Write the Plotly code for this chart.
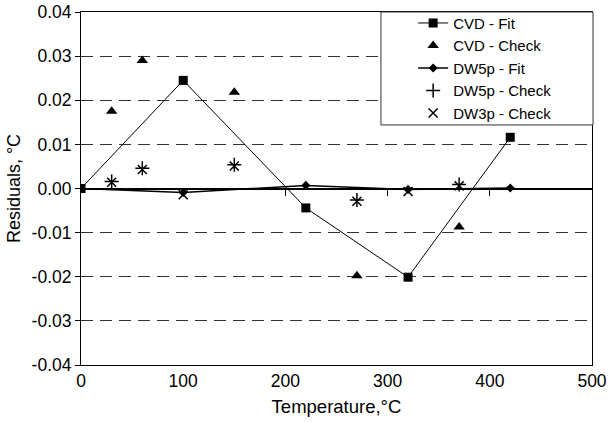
import plotly.graph_objects as go

# ---- data ----
cvd_fit_x = [0, 100, 220, 320, 420]
cvd_fit_y = [0.0, 0.0245, -0.0044, -0.0201, 0.0116]

cvd_check_x = [30, 60, 150, 270, 370]
cvd_check_y = [0.0175, 0.0290, 0.0218, -0.0198, -0.0087]

dw5p_fit_x = [0, 100, 220, 320, 420]
dw5p_fit_y = [0.0, -0.0009, 0.0007, -0.0002, 0.0001]

dw5p_check_x = [30, 60, 150, 270, 370]
dw5p_check_y = [0.0016, 0.0046, 0.0054, -0.0026, 0.0009]

dw3p_check_x = [30, 60, 100, 150, 270, 320, 370]
dw3p_check_y = [0.0014, 0.0043, -0.0014, 0.0051, -0.0029, -0.0007, 0.0006]

x_ticks = [0, 100, 200, 300, 400, 500]
y_ticks = [-0.04, -0.03, -0.02, -0.01, 0.0, 0.01, 0.02, 0.03, 0.04]
y_tick_text = ["-0.04", "-0.03", "-0.02", "-0.01", "0.00", "0.01", "0.02", "0.03", "0.04"]
zero_axis_ticks = [100, 200, 300, 400]

FONT = "Liberation Sans, Arial, sans-serif"

fig = go.Figure()
fig.add_trace(go.Scatter(x=cvd_fit_x, y=cvd_fit_y, name="CVD - Fit", mode="lines+markers",
                         line=dict(color="black", width=1),
                         marker=dict(symbol="square", size=9, color="black")))
fig.add_trace(go.Scatter(x=cvd_check_x, y=cvd_check_y, name="CVD - Check", mode="markers",
                         marker=dict(symbol="triangle-up", size=10, color="black")))
fig.add_trace(go.Scatter(x=dw5p_fit_x, y=dw5p_fit_y, name="DW5p - Fit", mode="lines+markers",
                         line=dict(color="black", width=1.5),
                         marker=dict(symbol="diamond", size=7, color="black")))
fig.add_trace(go.Scatter(x=dw5p_check_x, y=dw5p_check_y, name="DW5p - Check", mode="markers",
                         marker=dict(symbol="cross-thin-open", size=10, color="black",
                                     line=dict(color="black", width=1.5))))
fig.add_trace(go.Scatter(x=dw3p_check_x, y=dw3p_check_y, name="DW3p - Check", mode="markers",
                         marker=dict(symbol="x-thin-open", size=9, color="black",
                                     line=dict(color="black", width=1.5))))
# invisible trace for the zero-crossing axis ticks
fig.add_trace(go.Scatter(x=zero_axis_ticks, y=[0] * len(zero_axis_ticks), xaxis="x2",
                         mode="markers", marker=dict(opacity=0), showlegend=False,
                         hoverinfo="skip"))

fig.update_layout(
    width=608, height=422,
    margin=dict(l=81, r=16, t=12, b=57, autoexpand=False),
    paper_bgcolor="white", plot_bgcolor="white",
    font=dict(family=FONT, size=17, color="black"),
    showlegend=True,
    xaxis=dict(range=[0, 500], tickvals=x_ticks, ticks="", showgrid=False,
               showline=True, linecolor="black", linewidth=1, mirror=True,
               zeroline=False, tickfont=dict(size=17.5), automargin=False,
               title=dict(text="Temperature,°C", font=dict(size=18.5), standoff=10)),
    xaxis2=dict(range=[0, 500], overlaying="x", anchor="free", position=0.5,
                tickvals=zero_axis_ticks, ticks="outside", ticklen=6, tickcolor="black",
                tickwidth=1, automargin=False,
                showticklabels=False, showgrid=False, showline=False, zeroline=False),
    yaxis=dict(range=[-0.04, 0.04], tickvals=y_ticks, ticktext=y_tick_text,
               ticks="outside", ticklen=5, tickcolor="black",
               showgrid=True, gridcolor="#333", gridwidth=1, griddash="12px,7px",
               zeroline=True, zerolinecolor="black", zerolinewidth=1.5,
               showline=True, linecolor="black", linewidth=1, mirror=True,
               tickfont=dict(size=17.5), automargin=False,
               title=dict(text="Residuals, °C", font=dict(size=18), standoff=6)),
    legend=dict(x=0.65, y=1.015, xanchor="left", yanchor="top",
                bgcolor="rgba(0,0,0,0)", borderwidth=0,
                font=dict(family=FONT, size=15, color="black")),
    shapes=[dict(type="rect", xref="paper", yref="paper", x0=0.587, x1=1.002,
                 y0=0.68, y1=1.0, fillcolor="white", line=dict(color="#333", width=1),
                 layer="above")],
)

fig.write_html("out.html")
